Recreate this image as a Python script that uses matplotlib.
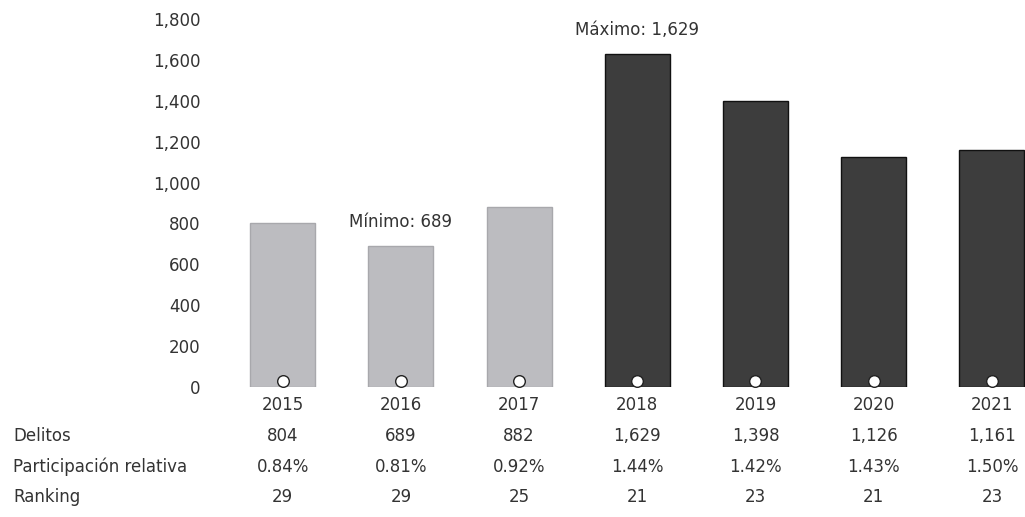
import matplotlib.pyplot as plt
from matplotlib.ticker import FuncFormatter

# Datos
anios = ['2015', '2016', '2017', '2018', '2019', '2020', '2021']
delitos = [804, 689, 882, 1629, 1398, 1126, 1161]
participacion = ['0.84%', '0.81%', '0.92%', '1.44%', '1.42%', '1.43%', '1.50%']
ranking = [29, 29, 25, 21, 23, 21, 23]
filas = ['Delitos', 'Participación relativa', 'Ranking']

plt.rcParams['font.family'] = ['DejaVu Sans']
texto = '#333333'
fs = 12

fig = plt.figure(figsize=(10.25, 5.17), dpi=100)
ax = fig.add_axes([220 / 1025, 130 / 517, 805 / 1025, 368 / 517])

x = list(range(len(anios)))
colores = ['#bcbcc0' if int(a) < 2018 else '#3d3d3d' for a in anios]
bordes = ['#a8a8ac' if int(a) < 2018 else '#111111' for a in anios]
ax.bar(x, delitos, width=0.55, color=colores, edgecolor=bordes, linewidth=1)
ax.scatter(x, [28] * len(x), s=70, facecolor='white', edgecolor='#222222',
           linewidth=1, zorder=3, clip_on=False)

ax.set_xlim(-0.53, 6.28)
ax.set_ylim(0, 1800)
ax.set_yticks(range(0, 1801, 200))
ax.yaxis.set_major_formatter(FuncFormatter(lambda v, p: f'{int(v):,}'))
ax.tick_params(axis='y', length=0, pad=14, labelsize=fs, labelcolor=texto)
ax.set_xticks([])
for s in ax.spines.values():
    s.set_visible(False)

# Mínimo y máximo
i_min = delitos.index(min(delitos))
i_max = delitos.index(max(delitos))
ax.text(i_min, min(delitos) + 120, f'Mínimo: {min(delitos):,}', ha='center',
        va='center', fontsize=fs, color=texto)
ax.text(i_max, max(delitos) + 115, f'Máximo: {max(delitos):,}', ha='center',
        va='center', fontsize=fs, color=texto)

# Tabla bajo el gráfico
trans = ax.get_xaxis_transform()
filas_y = [-0.133, -0.217, -0.299]
for i, a in enumerate(anios):
    ax.text(i, -0.049, a, transform=trans, ha='center', va='center',
            fontsize=fs, color=texto)
    valores = [f'{delitos[i]:,}', participacion[i], str(ranking[i])]
    for v, yy in zip(valores, filas_y):
        ax.text(i, yy, v, transform=trans, ha='center', va='center',
                fontsize=fs, color=texto)
for f, yy in zip(filas, filas_y):
    ax.text(13 / 1025, ax.get_position().y0 + yy * ax.get_position().height, f,
            transform=fig.transFigure, ha='left', va='center', fontsize=fs,
            color=texto)

fig.savefig('out.png', dpi=100)
